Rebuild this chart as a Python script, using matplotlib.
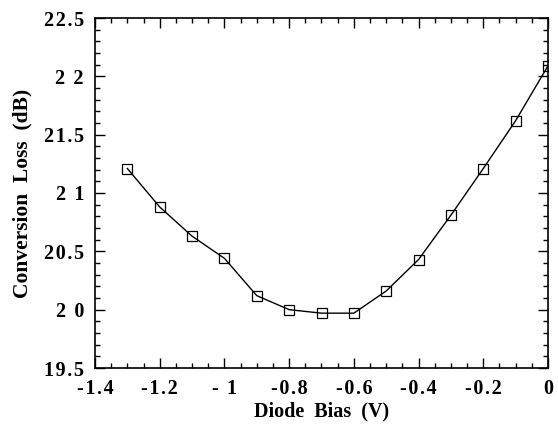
import numpy as np
import matplotlib.pyplot as plt
from matplotlib.ticker import MultipleLocator

# diode bias sweep and measured conversion loss
bias = [-1.3, -1.2, -1.1, -1.0, -0.9, -0.8, -0.7, -0.6, -0.5, -0.4, -0.3, -0.2, -0.1, 0.0]
loss = [21.21, 20.88, 20.63, 20.44, 20.12, 20.00, 19.97, 19.97, 20.16, 20.43, 20.81, 21.21, 21.62, 22.09]

xticks = [-1.4, -1.2, -1.0, -0.8, -0.6, -0.4, -0.2, 0.0]
xticklabels = ['-1.4', '-1.2', '- 1', '-0.8', '-0.6', '-0.4', '-0.2', '0']
yticks = [19.5, 20.0, 20.5, 21.0, 21.5, 22.0, 22.5]
yticklabels = ['19.5', '2 0', '20.5', '2 1', '21.5', '2 2', '22.5']

def spaced(s):
    # old plotting package letter-spaced its tick labels
    return '\u200a'.join(s)

plt.rcParams['font.family'] = 'Liberation Serif'
plt.rcParams['font.weight'] = 'bold'

fig = plt.figure(figsize=(5.58, 4.34), dpi=100)
ax = fig.add_axes([95/558, 1-368/434, 453/558, 350/434])

ax.plot(bias, loss, color='black', linewidth=1.0, marker='s', markersize=6.5,
        markerfacecolor='none', markeredgecolor='black', markeredgewidth=0.9)

ax.set_xlim(-1.4, 0.0)
ax.set_ylim(19.5, 22.5)
ax.set_xticks(xticks)
ax.set_xticklabels([spaced(t) for t in xticklabels], fontsize=14.5, fontweight='bold')
ax.set_yticks(yticks)
ax.set_yticklabels([spaced(t) for t in yticklabels], fontsize=14.5, fontweight='bold')
ax.xaxis.set_minor_locator(MultipleLocator(0.05))
ax.yaxis.set_minor_locator(MultipleLocator(0.1))
ax.tick_params(which='both', direction='in', top=True, right=True, width=1.0)
ax.tick_params(which='major', length=7, pad=8)
ax.tick_params(which='minor', length=3.5)
for s in ax.spines.values():
    s.set_linewidth(1.2)

ax.set_xlabel('Diode  Bias  (V)', fontsize=14.5, fontweight='bold', labelpad=2)
ax.set_ylabel('Conversion  Loss  (dB)', fontsize=15.5, fontweight='bold', labelpad=8)

fig.savefig('out.png', dpi=100)
